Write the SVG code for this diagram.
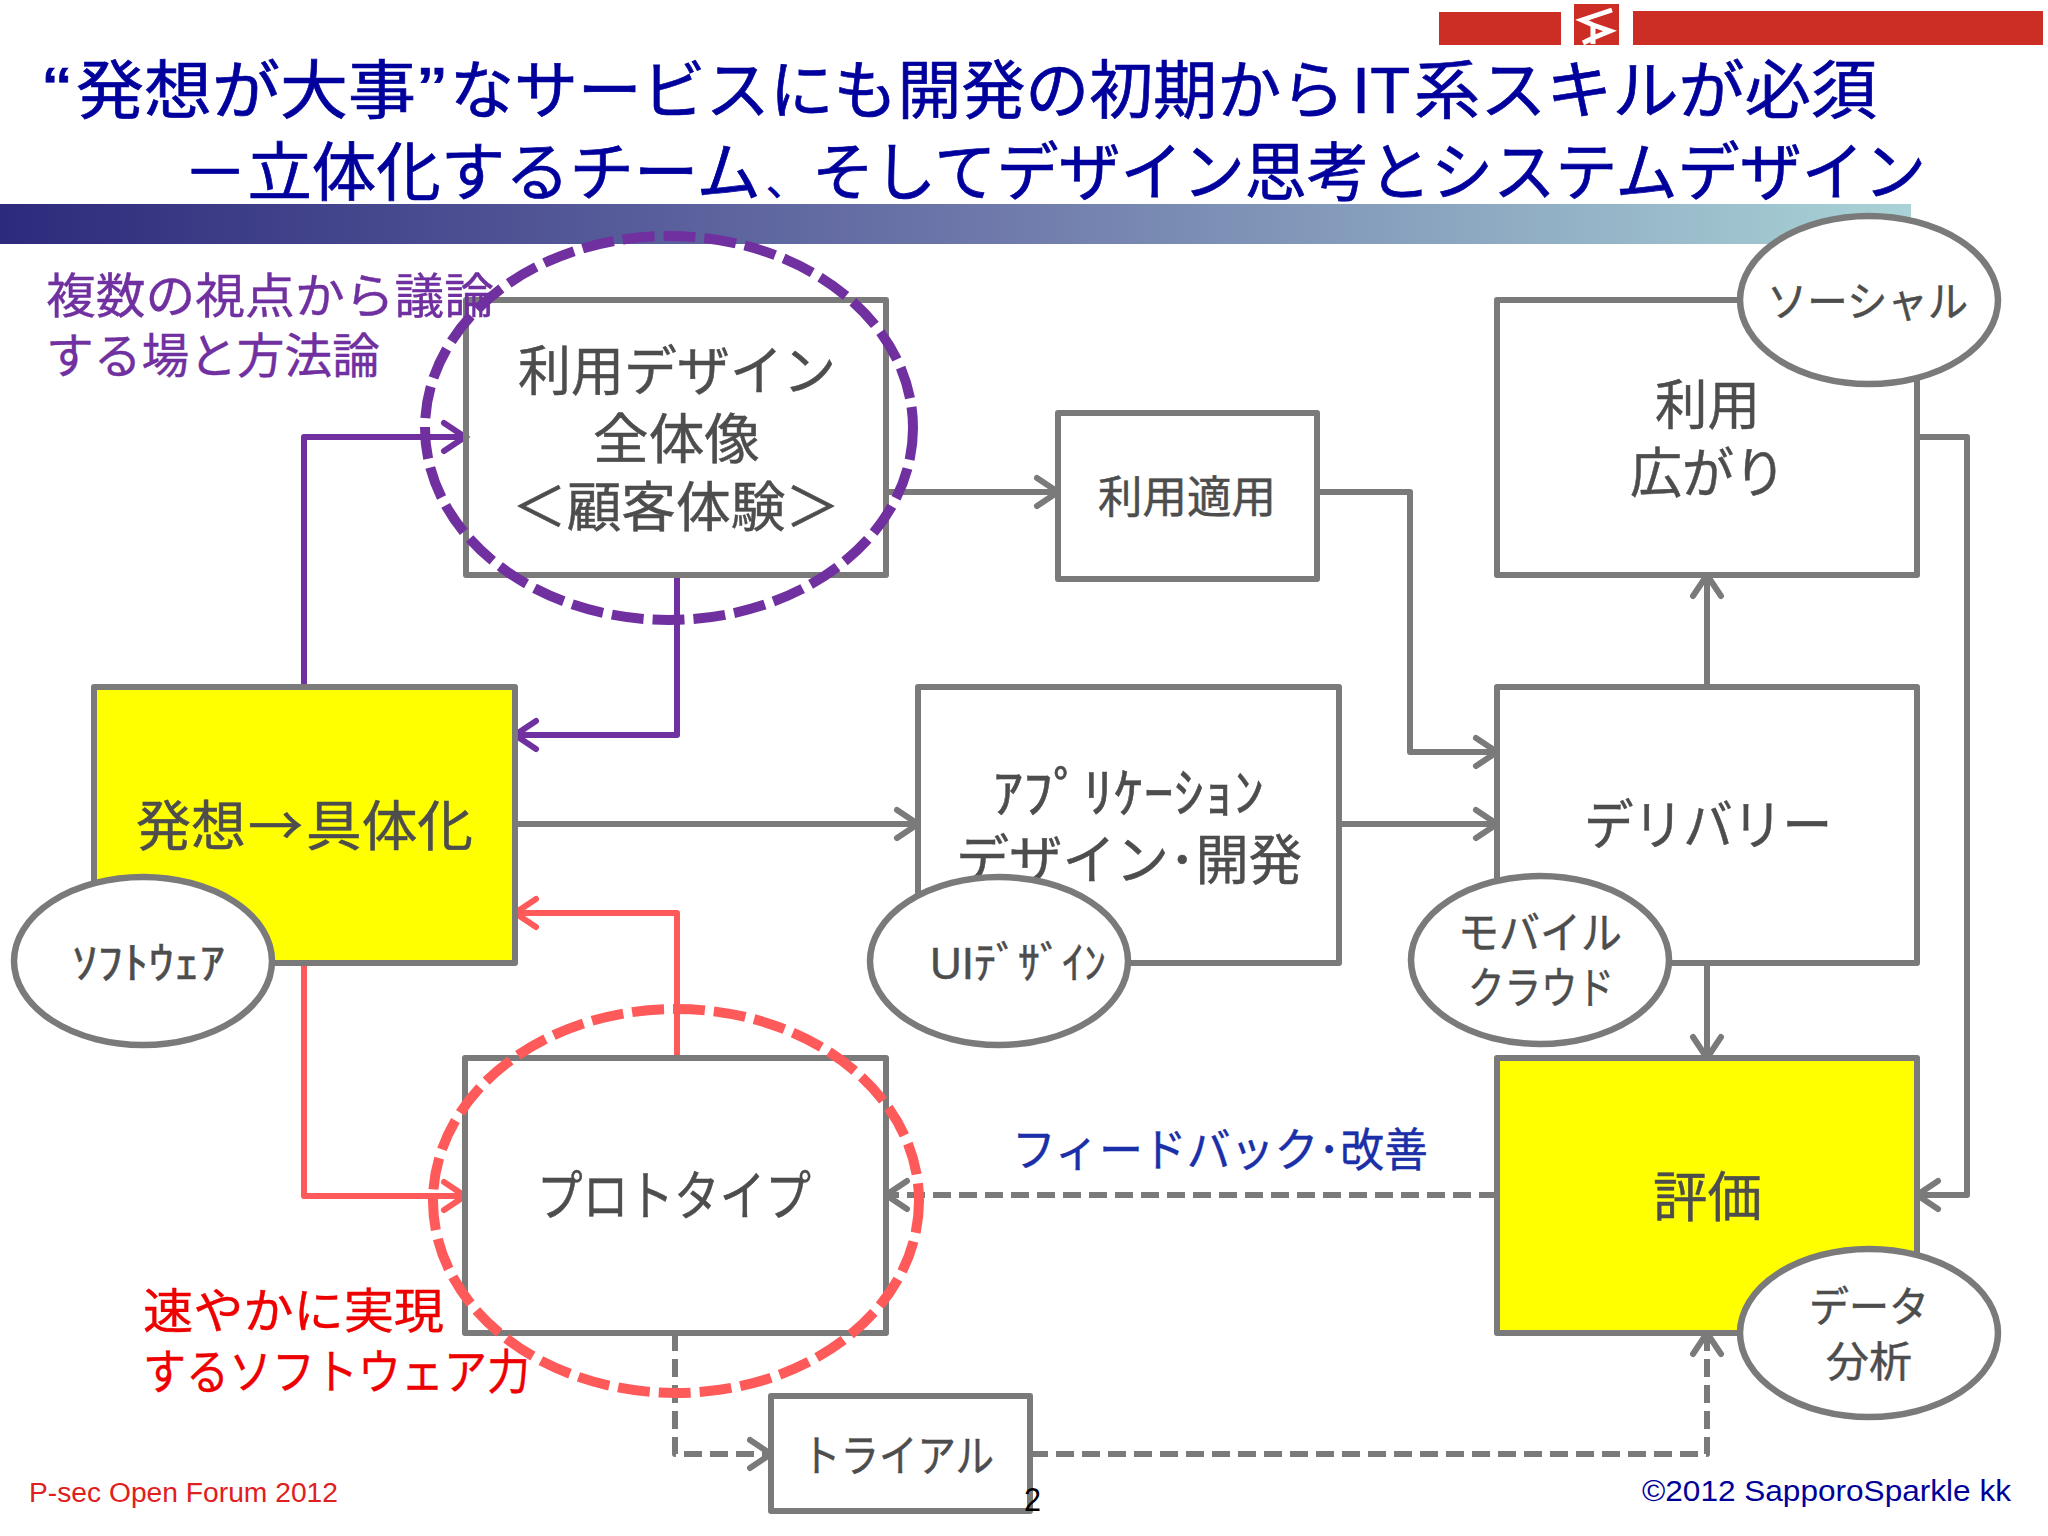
<svg xmlns="http://www.w3.org/2000/svg" width="2048" height="1536" viewBox="0 0 2048 1536">
<style>
text{font-family:"Liberation Sans","Noto Sans CJK JP",sans-serif;text-anchor:start}
.t{fill:#4d4d4d;stroke:#4d4d4d;stroke-width:.5}
.box{fill:#fff;stroke:#7a7a7a;stroke-width:6;stroke-linejoin:round}
.yel{fill:#ffff00;stroke:#7a7a7a;stroke-width:6;stroke-linejoin:round}
.ell{fill:#fff;stroke:#7a7a7a;stroke-width:6.5}
.c{fill:none;stroke:#7a7a7a;stroke-width:6;stroke-linejoin:round}
.d{stroke-dasharray:18 8}
.p{fill:none;stroke:#7030a0;stroke-width:6;stroke-linejoin:round}
.r{fill:none;stroke:#ff5a5a;stroke-width:6;stroke-linejoin:round}
.title{fill:#00009c;stroke:#00009c;stroke-width:.7;font-size:64px}
.lab{stroke-width:.4}
.ah{fill:none;stroke-width:6;stroke-linecap:round}
</style>
<defs>
<linearGradient id="bar" x1="0" x2="1" y1="0" y2="0"><stop offset="0" stop-color="#2d2a7c"/><stop offset=".5" stop-color="#6c76a9"/><stop offset="1" stop-color="#a9d3d6"/></linearGradient>
<marker id="ag" markerUnits="userSpaceOnUse" markerWidth="34" markerHeight="44" refX="26" refY="22" orient="auto"><path class="ah" d="M5 8L26 22L5 36" stroke="#7a7a7a"/></marker>
<marker id="ap" markerUnits="userSpaceOnUse" markerWidth="34" markerHeight="44" refX="26" refY="22" orient="auto"><path class="ah" d="M5 8L26 22L5 36" stroke="#7030a0"/></marker>
<marker id="ar" markerUnits="userSpaceOnUse" markerWidth="34" markerHeight="44" refX="26" refY="22" orient="auto"><path class="ah" d="M5 8L26 22L5 36" stroke="#ff5a5a"/></marker>
</defs>
<rect width="2048" height="1536" fill="#fff"/>
<g id="header">
<rect x="1439" y="12" width="122" height="33" fill="#cc2e25"/>
<rect x="1574" y="4" width="45" height="41" fill="#cc2e25"/>
<rect x="1633" y="11" width="410" height="34" fill="#cc2e25"/>
<path d="M1612 10L1582 20L1593 25L1610 31L1593 38L1583 43M1593 25V44" fill="none" stroke="#fff" stroke-width="5"/>
<rect x="0" y="204" width="1911" height="40" fill="url(#bar)"/>
<text class="title" x="43" y="113" textLength="28" lengthAdjust="spacingAndGlyphs">“</text>
<text class="title" x="76" y="113" textLength="340" lengthAdjust="spacingAndGlyphs">発想が大事</text>
<text class="title" x="418" y="113" textLength="28" lengthAdjust="spacingAndGlyphs">”</text>
<text class="title" x="450" y="113" textLength="895" lengthAdjust="spacingAndGlyphs">なサービスにも開発の初期から</text>
<text class="title" x="1352" y="113" textLength="58" lengthAdjust="spacingAndGlyphs">IT</text>
<text class="title" x="1414" y="113" textLength="463" lengthAdjust="spacingAndGlyphs">系スキルが必須</text>
<text class="title" x="183" y="195" textLength="578" lengthAdjust="spacingAndGlyphs">－立体化するチーム</text>
<text class="title" x="766" y="195" style="font-size:40px">、</text>
<text class="title" x="812" y="195" textLength="1114" lengthAdjust="spacingAndGlyphs">そしてデザイン思考とシステムデザイン</text>
</g>
<g id="connectors">
<path class="p" d="M304 687V437H465" marker-end="url(#ap)"/>
<path class="p" d="M677 575V735H515" marker-end="url(#ap)"/>
<path class="r" d="M677 1058V913H515" marker-end="url(#ar)"/>
<path class="r" d="M304 963V1196H465" marker-end="url(#ar)"/>
<path class="c" d="M515 824H918" marker-end="url(#ag)"/>
<path class="c" d="M1339 824H1497" marker-end="url(#ag)"/>
<path class="c" d="M886 492H1058" marker-end="url(#ag)"/>
<path class="c" d="M1317 492H1410V752H1497" marker-end="url(#ag)"/>
<path class="c" d="M1707 687V575" marker-end="url(#ag)"/>
<path class="c" d="M1707 963V1058" marker-end="url(#ag)"/>
<path class="c" d="M1917 437H1967V1195H1917" marker-end="url(#ag)"/>
<path class="c d" d="M1497 1195H886" marker-end="url(#ag)"/>
<path class="c d" d="M675 1333V1454H771" marker-end="url(#ag)"/>
<path class="c d" d="M1030 1454H1707V1333" marker-end="url(#ag)"/>
</g>
<g id="n-riyou-design"><rect class="box" x="466" y="300" width="420" height="275" fill-opacity="0"/>
<text class="t" font-size="54" x="518" y="391" textLength="318" lengthAdjust="spacingAndGlyphs">利用デザイン</text>
<text class="t" font-size="54" x="593" y="459" textLength="167" lengthAdjust="spacingAndGlyphs">全体像</text>
<text class="t" font-size="54" x="512" y="527" textLength="328" lengthAdjust="spacingAndGlyphs">＜顧客体験＞</text></g>
<g id="n-riyou-tekiyou"><rect class="box" x="1058" y="413" width="259" height="166"/>
<text class="t" font-size="44" x="1098" y="513" textLength="178" lengthAdjust="spacingAndGlyphs">利用適用</text></g>
<g id="n-hirogari"><rect class="box" x="1497" y="300" width="420" height="275"/>
<text class="t" font-size="54" x="1655" y="425" textLength="105" lengthAdjust="spacingAndGlyphs">利用</text>
<text class="t" font-size="54" x="1630" y="493" textLength="156" lengthAdjust="spacingAndGlyphs">広がり</text></g>
<g id="n-hassou"><rect class="yel" x="94" y="687" width="421" height="276"/>
<text class="t" font-size="54" x="136" y="846" textLength="110" lengthAdjust="spacingAndGlyphs">発想</text>
<text class="t" font-size="54" x="248" y="846" textLength="55" lengthAdjust="spacingAndGlyphs" style="font-family:'Noto Sans CJK JP',sans-serif">→</text>
<text class="t" font-size="54" x="306" y="846" textLength="167" lengthAdjust="spacingAndGlyphs">具体化</text></g>
<g id="n-app"><rect class="box" x="918" y="687" width="421" height="276"/>
<text class="t" font-size="54" x="993" y="813" textLength="271" lengthAdjust="spacingAndGlyphs">ｱﾌﾟﾘｹｰｼｮﾝ</text>
<text class="t" font-size="54" x="956" y="880" textLength="346" lengthAdjust="spacingAndGlyphs">デザイン･開発</text></g>
<g id="n-delivery"><rect class="box" x="1497" y="687" width="420" height="276"/>
<text class="t" font-size="54" x="1584" y="845" textLength="248" lengthAdjust="spacingAndGlyphs">デリバリー</text></g>
<g id="n-proto"><rect class="box" x="465" y="1058" width="421" height="275"/>
<text class="t" font-size="54" x="537" y="1216" textLength="274" lengthAdjust="spacingAndGlyphs">プロトタイプ</text></g>
<g id="n-hyouka"><rect class="yel" x="1497" y="1058" width="420" height="275"/>
<text class="t" font-size="54" x="1653" y="1217" textLength="109" lengthAdjust="spacingAndGlyphs">評価</text></g>
<g id="n-trial"><rect class="box" x="771" y="1396" width="259" height="115"/>
<text class="t" font-size="44" x="802" y="1472" textLength="192" lengthAdjust="spacingAndGlyphs">トライアル</text></g>
<g id="n-social"><ellipse class="ell" cx="1869" cy="300" rx="129" ry="84"/>
<text class="t" font-size="42" x="1767" y="317" textLength="201" lengthAdjust="spacingAndGlyphs">ソーシャル</text></g>
<g id="n-software"><ellipse class="ell" cx="143" cy="961" rx="129" ry="84"/>
<text class="t" font-size="44" x="72" y="979" textLength="153" lengthAdjust="spacingAndGlyphs">ｿﾌﾄｳｪｱ</text></g>
<g id="n-ui"><ellipse class="ell" cx="999" cy="961" rx="129" ry="84"/>
<text class="t" font-size="44" x="930" y="979" textLength="176" lengthAdjust="spacingAndGlyphs">UIﾃﾞｻﾞｲﾝ</text></g>
<g id="n-mobile"><ellipse class="ell" cx="1540" cy="960" rx="129" ry="84"/>
<text class="t" font-size="44" x="1458" y="949" textLength="164" lengthAdjust="spacingAndGlyphs">モバイル</text>
<text class="t" font-size="44" x="1468" y="1004" textLength="146" lengthAdjust="spacingAndGlyphs">クラウド</text></g>
<g id="n-data"><ellipse class="ell" cx="1869" cy="1333" rx="129" ry="84"/>
<text class="t" font-size="42" x="1809" y="1322" textLength="120" lengthAdjust="spacingAndGlyphs">データ</text>
<text class="t" font-size="42" x="1826" y="1377" textLength="86" lengthAdjust="spacingAndGlyphs">分析</text></g>
<g id="highlights">
<ellipse cx="669" cy="428" rx="244" ry="192" fill="none" stroke="#7030a0" stroke-width="10" stroke-dasharray="32 9"/>
<ellipse cx="676" cy="1201" rx="243" ry="192" fill="none" stroke="#ff5a5a" stroke-width="10" stroke-dasharray="32 9"/>
</g>
<g id="labels">
<text class="lab" x="46" y="313" font-size="48" fill="#7030a0" stroke="#7030a0" textLength="448" lengthAdjust="spacingAndGlyphs">複数の視点から議論</text>
<text class="lab" x="46" y="373" font-size="48" fill="#7030a0" stroke="#7030a0" textLength="334" lengthAdjust="spacingAndGlyphs">する場と方法論</text>
<text class="lab" x="143" y="1328" font-size="48" fill="#ee0000" stroke="#ee0000" textLength="301" lengthAdjust="spacingAndGlyphs">速やかに実現</text>
<text class="lab" x="143" y="1389" font-size="48" fill="#ee0000" stroke="#ee0000" textLength="387" lengthAdjust="spacingAndGlyphs">するソフトウェア力</text>
<text class="lab" x="1012" y="1166" font-size="46" fill="#1a2fa8" stroke="#1a2fa8" textLength="416" lengthAdjust="spacingAndGlyphs">フィードバック･改善</text>
<text x="29" y="1502" font-size="27" fill="#e02020" textLength="309" lengthAdjust="spacingAndGlyphs">P-sec Open Forum 2012</text>
<text x="1642" y="1501" font-size="29" fill="#000099" textLength="369" lengthAdjust="spacingAndGlyphs">©2012 SapporoSparkle kk</text>
<text x="1024" y="1511" font-size="33" fill="#000" textLength="17" lengthAdjust="spacingAndGlyphs">2</text>
</g>
</svg>
